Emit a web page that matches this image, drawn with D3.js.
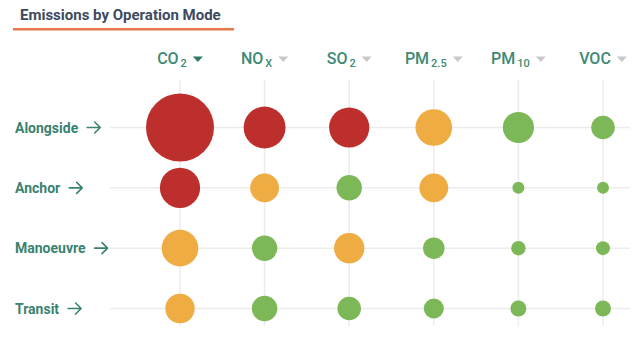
<!DOCTYPE html>
<html>
<head>
<meta charset="utf-8">
<script src="https://cdn.jsdelivr.net/npm/d3@7"></script>
<style>
  html, body { margin: 0; padding: 0; background: #fff; }
  svg { display: block; font-family: Roboto, "Noto Sans", sans-serif; }
</style>
</head>
<body>
<svg id="chart" width="642" height="340"></svg>
<script>
// Operation modes (rows) and pollutants (columns)
const modes = ["Alongside", "Anchor", "Manoeuvre", "Transit"];
const pollutants = ["CO2", "NOx", "SO2", "PM2.5", "PM10", "VOC"];
// Header label parts: main text + subscript
const headerMain = ["CO", "NO", "SO", "PM", "PM", "VOC"];
const headerSub = ["2", "X", "2", "2.5", "10", ""];
const sortedColumn = "CO2";

// Relative emission index per mode, one array per pollutant
const co2  = [100, 35, 29, 18.7];
const nox  = [38, 18, 14, 14];
const so2  = [35, 14, 20, 12];
const pm25 = [29, 18, 10, 8.7];
const pm10 = [21, 3.1, 4.5, 5.5];
const voc  = [12, 3.1, 4.2, 5.5];

// Severity level per mode, one array per pollutant
const co2Level  = ["high", "high", "medium", "medium"];
const noxLevel  = ["high", "medium", "low", "low"];
const so2Level  = ["high", "low", "medium", "low"];
const pm25Level = ["medium", "medium", "low", "low"];
const pm10Level = ["low", "low", "low", "low"];
const vocLevel  = ["low", "low", "low", "low"];

const valuesBy = [co2, nox, so2, pm25, pm10, voc];
const levelsBy = [co2Level, noxLevel, so2Level, pm25Level, pm10Level, vocLevel];

const cells = [];
pollutants.forEach((p, j) => {
  modes.forEach((m, i) => {
    cells.push({ mode: m, pollutant: p, value: valuesBy[j][i], level: levelsBy[j][i] });
  });
});

const svg = d3.select("#chart");

const x = d3.scalePoint().domain(pollutants).range([180, 603]);
const y = d3.scalePoint().domain(modes).range([127.5, 308.5]);
const r = d3.scaleSqrt().domain([0, d3.max(cells, d => d.value)]).range([0, 34]);
const color = d3.scaleOrdinal()
  .domain(["high", "medium", "low"])
  .range(["#bd2f2c", "#eeac43", "#7cb857"]);

// Title with underline
svg.append("text")
  .attr("x", 20).attr("y", 20)
  .attr("font-size", 15).attr("font-weight", 700)
  .attr("fill", "#3d4a5e")
  .text("Emissions by Operation Mode");
svg.append("rect")
  .attr("x", 13).attr("y", 28).attr("width", 221).attr("height", 2.5)
  .attr("fill", "#e8764a");

// Grid
const grid = svg.append("g");
grid.selectAll("line.h").data(modes).join("line")
  .attr("class", "h")
  .attr("x1", 110).attr("x2", 630)
  .attr("y1", d => y(d)).attr("y2", d => y(d))
  .attr("stroke", "#ececec").attr("stroke-width", 1.5);
grid.selectAll("line.v").data(pollutants).join("line")
  .attr("class", "v")
  .attr("x1", d => x(d)).attr("x2", d => x(d))
  .attr("y1", 80).attr("y2", 326)
  .attr("stroke", "#ececec").attr("stroke-width", 1.5);

// Column headers: label with subscript plus sort triangle, centred on the column
const headers = svg.append("g").selectAll("g").data(pollutants).join("g");
headers.each(function (p, j) {
  const g = d3.select(this);
  const t = g.append("text")
    .attr("y", 64)
    .attr("font-size", 16).attr("font-weight", 500)
    .attr("fill", "#3e8a74");
  t.append("tspan").text(headerMain[j]);
  if (headerSub[j]) {
    t.append("tspan").attr("dx", 2).attr("dy", 3).attr("font-size", 11).text(headerSub[j]);
  }
  const w = t.node().getComputedTextLength() + (headerSub[j] ? 2 : 0);
  const gap = 6, triW = 10, triH = 5.5;
  const total = w + gap + triW;
  const x0 = x(p) - total / 2;
  t.attr("x", x0);
  const tx = x0 + w + gap;
  g.append("path")
    .attr("d", `M${tx},56.5 L${tx + triW},56.5 L${tx + triW / 2},${56.5 + triH} Z`)
    .attr("fill", p === sortedColumn ? "#2f7a63" : "#c8c8c8");
});

// Row labels with arrows
const rows = svg.append("g").selectAll("g").data(modes).join("g")
  .attr("transform", d => `translate(0,${y(d)})`);
rows.each(function (m) {
  const g = d3.select(this);
  const t = g.append("text")
    .attr("x", 15).attr("y", 5)
    .attr("font-size", 14).attr("font-weight", 700)
    .attr("fill", "#3a8270")
    .text(m);
  const ax = 15 + t.node().getComputedTextLength() + 9;
  g.append("path")
    .attr("d", `M${ax},0 H${ax + 13} M${ax + 7.5},-5.5 L${ax + 13},0 L${ax + 7.5},5.5`)
    .attr("fill", "none").attr("stroke", "#3a8270")
    .attr("stroke-width", 1.6).attr("stroke-linecap", "round").attr("stroke-linejoin", "round");
});

// Bubbles
svg.append("g").selectAll("circle").data(cells).join("circle")
  .attr("cx", d => x(d.pollutant))
  .attr("cy", d => y(d.mode))
  .attr("r", d => r(d.value))
  .attr("fill", d => color(d.level));
</script>
</body>
</html>
